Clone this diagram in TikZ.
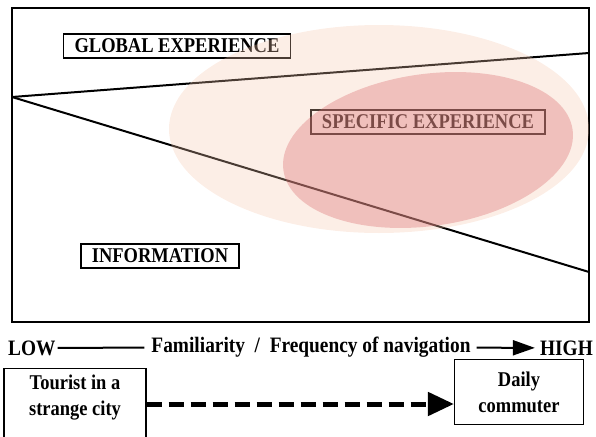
\documentclass[tikz,border=0pt]{standalone}
\usepackage{fontspec}
\setmainfont{Liberation Serif}
\newfontfamily\narrowbf[FakeStretch=0.88]{Liberation Serif Bold}
\usetikzlibrary{positioning,arrows.meta}
\definecolor{peach}{RGB}{245,198,172}
\definecolor{rosy}{RGB}{218,107,110}
\tikzset{
  tag/.style={draw, line width=1.5pt, inner xsep=11pt, inner ysep=5pt, font=\fontsize{21}{23}\narrowbf},
  case/.style={draw, line width=1.2pt, align=center, font=\fontsize{21}{26}\narrowbf},
  axislabel/.style={font=\fontsize{22}{24}\narrowbf, inner sep=1pt}
}
\begin{document}
\begin{tikzpicture}[x=1pt, y=-1pt]
\useasboundingbox (0,0) rectangle (596,436);
% the space of knowledge
\draw[line width=2pt] (12,8) rectangle (589,322);
\coordinate (apex) at (12,97);
\coordinate (top) at (589,53);
\coordinate (bot) at (589,272);
\draw[line width=2pt] (apex) -- (top);
\draw[line width=2pt] (apex) -- (bot);
\node[tag] (global) at (177,46) {GLOBAL EXPERIENCE};
\node[tag] (info) at (160,256) {INFORMATION};
\node[tag] (specific) at (428,122) {SPECIFIC EXPERIENCE};
% overlapping areas of experience
\fill[peach, fill opacity=0.3] (379,129) ellipse [x radius=210, y radius=104];
\fill[rosy, fill opacity=0.35, rotate around={8:(428,150)}] (428,150) ellipse [x radius=146, y radius=76];
% familiarity scale
\node[axislabel, anchor=west] (low) at (7,348) {LOW};
\node[axislabel] (freq) at (311,347) {Familiarity\ \ /\ \ Frequency of navigation};
\node[axislabel, anchor=east] (high) at (594,348) {HIGH};
\draw[line width=2pt, shorten <=1pt, shorten >=6pt] (low) -- (freq);
\draw[line width=2pt, shorten <=5pt, shorten >=4pt, -{Triangle[length=22pt, width=15pt]}] (freq) -- (high);
\node[case, minimum width=142pt, inner ysep=6pt, text depth=45pt, anchor=north] (tourist) at (75,368) {Tourist in a\\strange city};
\node[case, minimum width=129pt, minimum height=65pt] (commuter) at (519,392) {Daily\\commuter};
\draw[line width=5pt, dash pattern=on 15pt off 7pt, -{Triangle[length=26pt, width=23pt]}] (tourist.east |- 0,404) -- (commuter.west |- 0,404);
\end{tikzpicture}
\end{document}
